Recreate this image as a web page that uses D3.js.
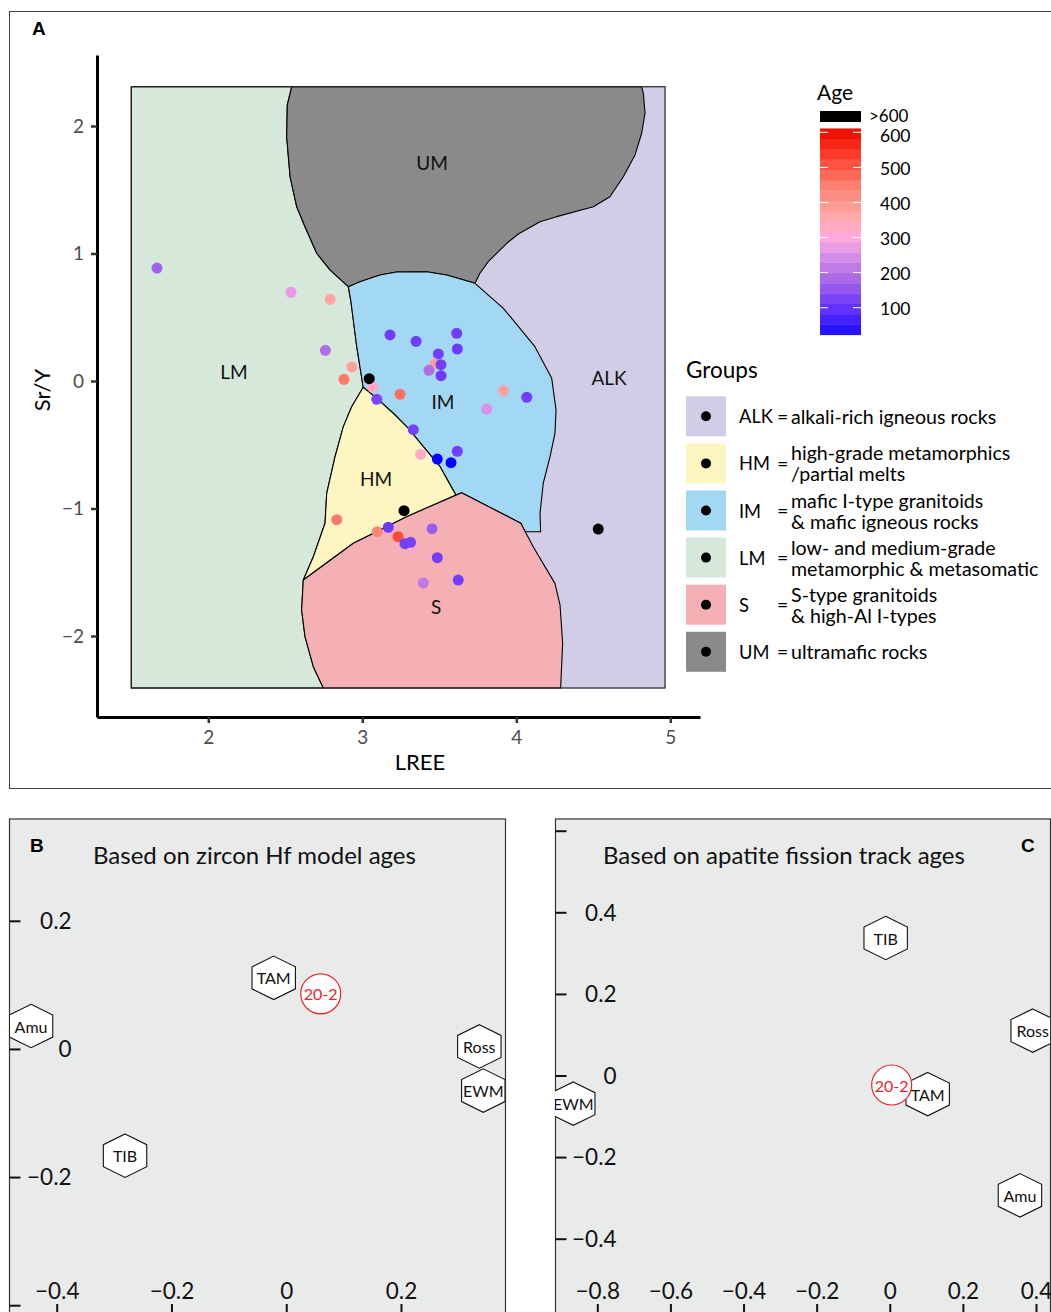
<!DOCTYPE html>
<html>
<head>
<meta charset="utf-8">
<script src="https://cdn.jsdelivr.net/npm/d3@7"></script>
<style>
  body { margin: 0; background: #fff; }
  svg { display: block; font-family: Lato, "Open Sans", sans-serif; }
</style>
</head>
<body>
<svg id="chart" width="1051" height="1312"></svg>
<script>
// ---- panel A: field boundaries (LREE, Sr/Y) ----
const fieldX = [1.5, 4.966];
const fieldY = [-2.408, 2.308];

const umLeft = [[2.542, 2.308], [2.513, 2.165], [2.509, 1.916], [2.531, 1.602], [2.574, 1.367],
  [2.628, 1.21], [2.704, 1.002], [2.79, 0.871], [2.909, 0.74]];
const umIm = [[2.909, 0.74], [2.985, 0.779], [3.115, 0.831], [3.223, 0.855], [3.418, 0.857],
  [3.548, 0.831], [3.732, 0.766]];
const umAlk = [[3.732, 0.766], [3.764, 0.845], [3.818, 0.936], [3.938, 1.08], [4.013, 1.153],
  [4.154, 1.249], [4.262, 1.289], [4.5, 1.367], [4.608, 1.445], [4.695, 1.602], [4.771, 1.773],
  [4.814, 1.943], [4.836, 2.1], [4.825, 2.256], [4.814, 2.308]];
const imAlk = [[3.732, 0.766], [3.916, 0.57], [4.121, 0.269], [4.23, 0.021], [4.258, -0.227],
  [4.251, -0.41], [4.219, -0.594], [4.175, -0.802], [4.154, -1.038], [4.158, -1.182], [4.056, -1.182]];
const imLm = [[2.909, 0.74], [2.925, 0.635], [2.964, 0.269], [3.006, -0.049]];
const hmIm = [[3.006, -0.049], [3.094, -0.136], [3.201, -0.253], [3.299, -0.371], [3.396, -0.515],
  [3.505, -0.672], [3.608, -0.895]];
const hmLm = [[3.006, -0.049], [2.931, -0.202], [2.877, -0.358], [2.823, -0.594], [2.769, -0.881],
  [2.758, -1.116], [2.682, -1.378], [2.617, -1.561]];
const hmS = [[2.617, -1.561], [2.942, -1.273], [3.05, -1.208], [3.288, -1.064], [3.645, -0.876]];
const sRight = [[3.645, -0.876], [4.029, -1.116], [4.11, -1.3], [4.186, -1.456], [4.251, -1.587],
  [4.284, -1.757], [4.301, -2.057], [4.288, -2.408]];
const sLm = [[2.617, -1.561], [2.606, -1.796], [2.628, -2.005], [2.682, -2.241], [2.747, -2.408]];

const regionNames = ["UM", "LM", "IM", "HM", "S", "ALK"];
const regionLabelX = [3.453, 2.167, 3.524, 3.089, 3.479, 4.602];
const regionLabelY = [1.71, 0.071, -0.157, -0.761, -1.765, 0.031];

// ---- panel A: samples ----
const lree = [1.667, 2.537, 2.792, 2.76, 2.933, 2.881, 3.18, 3.349, 3.613, 3.617, 3.494, 3.472, 3.511,
  3.433, 3.511, 3.068, 3.245, 3.094, 3.916, 4.068, 3.808, 3.331, 3.379, 3.487, 3.576, 3.617, 2.834,
  3.097, 3.169, 3.232, 3.453, 3.327, 3.277, 3.314, 3.487, 3.623, 3.396, 3.045, 3.271, 4.532];
const srY = [0.886, 0.696, 0.641, 0.241, 0.11, 0.013, 0.361, 0.311, 0.374, 0.251, 0.212, 0.133, 0.128,
  0.084, 0.042, -0.049, -0.104, -0.144, -0.076, -0.128, -0.22, -0.382, -0.575, -0.612, -0.641, -0.551,
  -1.088, -1.182, -1.147, -1.221, -1.158, -1.325, -1.276, -1.265, -1.386, -1.561, -1.584, 0.018,
  -1.017, -1.161];
const age = [170, 270, 370, 190, 380, 460, 115, 115, 115, 110, 115, 390, 115, 190, 110, 325, 470, 125,
  380, 115, 250, 120, 325, 5, 5, 115, 460, 440, 110, 520, 165, 330, 115, 120, 115, 115, 210, 700, 700, 700];

const ageTicks = [100, 200, 300, 400, 500, 600];
const ageLimits = [23, 611];
const ageStops = [0, 100, 180, 250, 300, 360, 450, 530, 600];
const ageStopColors = ["#0000ff", "#6633ff", "#a868e8", "#d890e8", "#ffaadd", "#ffaaaa", "#fc8070",
  "#ff4030", "#ee1100"];

const groupCodes = ["ALK", "HM", "IM", "LM", "S", "UM"];
const groupColors = ["#d1cde6", "#fdf6c0", "#a3d8f4", "#d6e8da", "#f4b0b5", "#8a8a8a"];
const groupText = [
  ["alkali-rich igneous rocks"],
  ["high-grade metamorphics", "/partial melts"],
  ["mafic I-type granitoids", "& mafic igneous rocks"],
  ["low- and medium-grade", "metamorphic & metasomatic"],
  ["S-type granitoids", "& high-Al I-types"],
  ["ultramafic rocks"]
];

// ---- panels B, C: MDS maps ----
const sites = ["TAM", "TIB", "Amu", "Ross", "EWM"];
const hfX = [-0.0218, -0.2809, -0.4447, 0.3365, 0.3434];
const hfY = [0.111, -0.1666, 0.0357, 0.0039, -0.065];
const aftX = [0.1037, -0.0112, 0.3561, 0.3909, -0.8657];
const aftY = [-0.0456, 0.337, -0.2937, 0.11, -0.069];
const sampleName = "20-2";
const hfSample = [0.0601, 0.086];
const aftSample = [0.0052, -0.0233];

const svg = d3.select("#chart");

// ================= PANEL A =================
const xA = d3.scaleLinear().domain([2, 5]).range([208.3, 670.3]);
const yA = d3.scaleLinear().domain([-2, 2]).range([636, 126]);
const ageColor = d3.scaleLinear().domain(ageStops).range(ageStopColors).clamp(true);
const colorOf = a => a > 600 ? "#000" : ageColor(a);

svg.append("rect").attr("x", 9.5).attr("y", 11.5).attr("width", 1060).attr("height", 777)
  .attr("fill", "#fff").attr("stroke", "#444");
svg.append("text").attr("x", 32).attr("y", 35).attr("font-family", "Liberation Sans, Arial")
  .attr("font-weight", "bold").attr("font-size", 19).text("A");

const rev = a => a.slice().reverse();
const polyLM = [[fieldX[0], fieldY[1]], ...umLeft, ...imLm.slice(1), ...hmLm.slice(1), ...sLm.slice(1),
  [fieldX[0], fieldY[0]]];
const polyUM = [...umLeft, ...umIm.slice(1), ...umAlk.slice(1)];
const polyIM = [...umIm, ...imAlk.slice(1), sRight[1], sRight[0], ...rev(hmIm), ...rev(imLm).slice(1)];
const polyHM = [...hmIm, ...rev(hmS).slice(1), ...rev(hmLm).slice(1)];
const polyS = [...hmS, ...sRight.slice(1), ...rev(sLm)];

const lineA = d3.line().x(d => xA(d[0])).y(d => yA(d[1]));
const field = svg.append("g");
field.append("rect")
  .attr("x", xA(fieldX[0])).attr("y", yA(fieldY[1]))
  .attr("width", xA(fieldX[1]) - xA(fieldX[0])).attr("height", yA(fieldY[0]) - yA(fieldY[1]))
  .attr("fill", groupColors[0]);
const polys = [[polyLM, groupColors[3]], [polyUM, groupColors[5]], [polyIM, groupColors[2]],
  [polyHM, groupColors[1]], [polyS, groupColors[4]]];
field.selectAll("path.region").data(polys).enter().append("path")
  .attr("class", "region")
  .attr("d", d => lineA(d[0]) + "Z")
  .attr("fill", d => d[1])
  .attr("stroke", "#000").attr("stroke-width", 1.1).attr("stroke-linejoin", "round");
field.append("rect")
  .attr("x", xA(fieldX[0])).attr("y", yA(fieldY[1]))
  .attr("width", xA(fieldX[1]) - xA(fieldX[0])).attr("height", yA(fieldY[0]) - yA(fieldY[1]))
  .attr("fill", "none").attr("stroke", "#222").attr("stroke-width", 1.2);

field.selectAll("text.rl").data(regionNames).enter().append("text")
  .attr("class", "rl")
  .attr("x", (d, i) => xA(regionLabelX[i])).attr("y", (d, i) => yA(regionLabelY[i]))
  .attr("text-anchor", "middle").attr("dominant-baseline", "central")
  .attr("font-size", 19).attr("fill", "#111").text(d => d);

field.selectAll("circle.pt").data(age).enter().append("circle")
  .attr("class", "pt")
  .attr("cx", (d, i) => xA(lree[i])).attr("cy", (d, i) => yA(srY[i]))
  .attr("r", 5.5).attr("fill", d => colorOf(d));

// axes
const xAxisScale = d3.scaleLinear().domain([xA.invert(97), xA.invert(700)]).range([97, 700]);
const yAxisScale = d3.scaleLinear().domain([yA.invert(717), yA.invert(55)]).range([717, 55]);
const gx = svg.append("g").attr("transform", "translate(0,717)")
  .call(d3.axisBottom(xAxisScale).tickValues([2, 3, 4, 5]).tickSize(6).tickSizeOuter(0).tickPadding(8)
    .tickFormat(d3.format("d")));
const gy = svg.append("g").attr("transform", "translate(97,0)")
  .call(d3.axisLeft(yAxisScale).tickValues([-2, -1, 0, 1, 2]).tickSize(6).tickSizeOuter(0).tickPadding(7)
    .tickFormat(d3.format("d")));
[gx, gy].forEach(g => {
  g.select(".domain").attr("stroke", "#000").attr("stroke-width", 3);
  g.selectAll(".tick line").attr("stroke", "#333").attr("stroke-width", 2.5);
  g.selectAll(".tick text").attr("font-size", 19).attr("fill", "#4d4d4d")
    .attr("font-family", "Lato, sans-serif");
});
svg.append("text").attr("x", 420).attr("y", 770).attr("text-anchor", "middle")
  .attr("font-size", 22).text("LREE");
svg.append("text").attr("transform", "translate(50,390) rotate(-90)").attr("text-anchor", "middle")
  .attr("font-size", 22).text("Sr/Y");

// age colour bar
const ageY = d3.scaleLinear().domain([100, 600]).range([307.7, 132.3]);
const cb = svg.append("g");
cb.append("text").attr("x", 817).attr("y", 100).attr("font-size", 21).text("Age");
cb.append("rect").attr("x", 820).attr("y", 111).attr("width", 41).attr("height", 11).attr("fill", "#000");
cb.append("text").attr("x", 869).attr("y", 115).attr("dominant-baseline", "central")
  .attr("font-size", 17).text(">600");
const nBins = 20;
const bins = d3.range(nBins).map(i => {
  const a0 = ageLimits[0] + (ageLimits[1] - ageLimits[0]) * i / nBins;
  const a1 = ageLimits[0] + (ageLimits[1] - ageLimits[0]) * (i + 1) / nBins;
  return [a0, a1];
});
cb.selectAll("rect.bin").data(bins).enter().append("rect")
  .attr("class", "bin")
  .attr("x", 820).attr("width", 41)
  .attr("y", d => ageY(d[1])).attr("height", d => ageY(d[0]) - ageY(d[1]) + 0.4)
  .attr("fill", d => ageColor((d[0] + d[1]) / 2));
ageTicks.forEach(t => {
  cb.append("line").attr("x1", 820).attr("x2", 828).attr("y1", ageY(t)).attr("y2", ageY(t))
    .attr("stroke", "#fff").attr("stroke-width", 1);
  cb.append("line").attr("x1", 853).attr("x2", 861).attr("y1", ageY(t)).attr("y2", ageY(t))
    .attr("stroke", "#fff").attr("stroke-width", 1);
  cb.append("text").attr("x", 880).attr("y", ageY(t) + (t === 600 ? 3 : 1.2))
    .attr("dominant-baseline", "central").attr("font-size", 17.5).text(t);
});

// groups legend
const lg = svg.append("g");
const fsL = 19.6;
lg.append("text").attr("x", 686).attr("y", 378).attr("font-size", 22.5).text("Groups");
const rowY = i => 396.3 + i * 47.1;
groupCodes.forEach((code, i) => {
  const top = rowY(i), mid = top + 20;
  lg.append("rect").attr("x", 686).attr("y", top).attr("width", 40).attr("height", 40)
    .attr("fill", groupColors[i]);
  lg.append("circle").attr("cx", 706).attr("cy", mid).attr("r", 5).attr("fill", "#000");
  lg.append("text").attr("x", 739).attr("y", mid).attr("dominant-baseline", "central")
    .attr("font-size", 18.3).text(code);
  lg.append("text").attr("x", 777).attr("y", mid).attr("dominant-baseline", "central")
    .attr("font-size", fsL).text("=");
  const lines = groupText[i];
  lines.forEach((t, j) => {
    const off = lines.length === 1 ? 0 : (j === 0 ? -10.5 : 10.5);
    lg.append("text").attr("x", 791).attr("y", mid + off).attr("dominant-baseline", "central")
      .attr("font-size", fsL).text(t);
  });
});

// ================= PANELS B & C =================
const hexPath = "M0,-21.7L21.7,-11L21.7,11L0,21.7L-21.7,11L-21.7,-11Z";
const fmt = d => d === 0 ? "0" : d3.format(".1f")(d);

function mdsPanel(opt) {
  const g = svg.append("g");
  const clipId = "clip" + opt.tag;
  g.append("clipPath").attr("id", clipId).append("rect")
    .attr("x", opt.left).attr("y", opt.top).attr("width", opt.right - opt.left).attr("height", 1312 - opt.top);
  g.append("rect").attr("x", opt.left + 0.5).attr("y", opt.top).attr("width", opt.right - opt.left)
    .attr("height", 600).attr("fill", "#e9ebea").attr("stroke", "#333").attr("stroke-width", 1.2);

  const x = d3.scaleLinear().domain(opt.xDom).range(opt.xRange);
  const y = d3.scaleLinear().domain(opt.yDom).range(opt.yRange);

  const ax = g.append("g").attr("transform", "translate(0,1316)")
    .call(d3.axisTop(x).tickValues(opt.xTicks).tickSize(12).tickPadding(5).tickFormat(fmt));
  const ay = g.append("g").attr("transform", `translate(${opt.left + 0.5},0)`)
    .call(d3.axisRight(y).tickValues(opt.yTicks).tickSize(11).tickFormat(d => opt.yHide.includes(d) ? "" : fmt(d)));
  ay.selectAll(".tick text").attr("text-anchor", "end").attr("x", opt.yLabelRight).attr("dy", "0.35em");
  [ax, ay].forEach(a => {
    a.select(".domain").remove();
    a.selectAll(".tick line").attr("stroke", "#111").attr("stroke-width", 2);
    a.selectAll(".tick text").attr("font-size", 22.5).attr("fill", "#111")
      .attr("font-family", "Lato, sans-serif");
  });

  g.append("text").attr("x", opt.titleX).attr("y", 864).attr("font-size", 24).attr("fill", "#111")
    .text(opt.title);
  g.append("text").attr("x", opt.letterX).attr("y", 852).attr("font-family", "Liberation Sans, Arial")
    .attr("font-weight", "bold").attr("font-size", 19).text(opt.tag);

  const marks = g.append("g").attr("clip-path", `url(#${clipId})`);
  marks.selectAll("path.hex").data(sites).enter().append("path")
    .attr("class", "hex")
    .attr("transform", (d, i) => `translate(${x(opt.sx[i])},${y(opt.sy[i])})`)
    .attr("d", hexPath).attr("fill", "#fff").attr("stroke", "#111").attr("stroke-width", 1.1);
  marks.append("circle").attr("cx", x(opt.sample[0])).attr("cy", y(opt.sample[1])).attr("r", 20)
    .attr("fill", "#fff").attr("stroke", "#e8242c").attr("stroke-width", 1.2);
  marks.selectAll("text.site").data(sites).enter().append("text")
    .attr("class", "site")
    .attr("x", (d, i) => x(opt.sx[i])).attr("y", (d, i) => y(opt.sy[i]))
    .attr("text-anchor", "middle").attr("dominant-baseline", "central")
    .attr("font-size", 16).attr("fill", "#111").text(d => d);
  marks.append("text").attr("x", x(opt.sample[0])).attr("y", y(opt.sample[1]))
    .attr("text-anchor", "middle").attr("dominant-baseline", "central")
    .attr("font-size", 16).attr("fill", "#e8242c").text(sampleName);
}

mdsPanel({
  tag: "B", left: 9, right: 505, top: 819,
  xDom: [-0.4, 0.2], xRange: [56.7, 401], yDom: [0.2, -0.4], yRange: [920.8, 1305.2],
  xTicks: [-0.4, -0.2, 0, 0.2], yTicks: [0.2, 0, -0.2, -0.4], yHide: [-0.4], yLabelRight: 62,
  sx: hfX, sy: hfY, sample: hfSample,
  title: "Based on zircon Hf model ages", titleX: 93, letterX: 30
});
mdsPanel({
  tag: "C", left: 555, right: 1050, top: 819,
  xDom: [-0.8, 0.4], xRange: [597.3, 1036], yDom: [0.4, -0.4], yRange: [912.3, 1238.7],
  xTicks: [-0.8, -0.6, -0.4, -0.2, 0, 0.2, 0.4], yTicks: [0.6, 0.4, 0.2, 0, -0.2, -0.4], yHide: [0.6],
  yLabelRight: 61,
  sx: aftX, sy: aftY, sample: aftSample,
  title: "Based on apatite fission track ages", titleX: 603, letterX: 1021
});
</script>
</body>
</html>
